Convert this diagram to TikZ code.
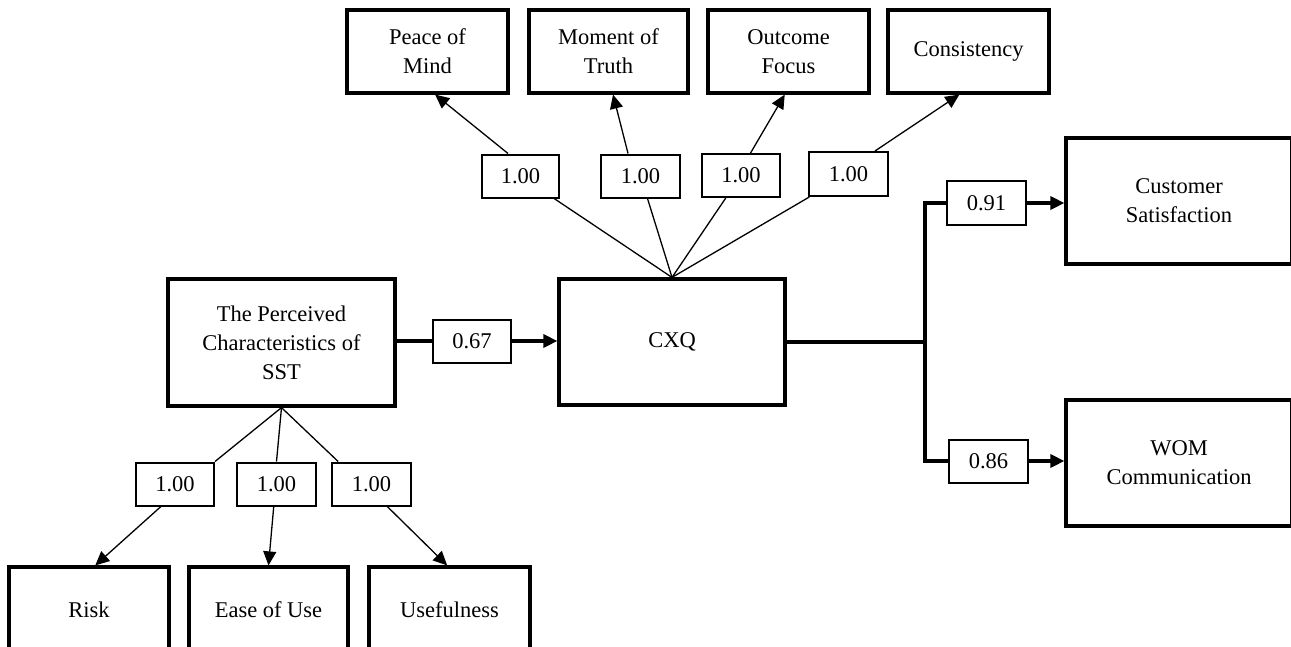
\documentclass[tikz,border=0pt]{standalone}
\usepackage{fontspec}
\setmainfont{Liberation Serif}
\usetikzlibrary{arrows.meta,calc}
\begin{document}
\begin{tikzpicture}[x=1pt,y=-1pt,
  bigbox/.style={draw,line width=3.2pt,inner sep=0pt,align=center,
    font=\fontsize{22.5}{29}\selectfont},
  lbl/.style={draw,line width=2pt,inner sep=0pt,align=center,
    minimum width=78pt,minimum height=43pt,font=\fontsize{22.5}{26}\selectfont},
  thinline/.style={line width=1.3pt},
  thickline/.style={line width=3.4pt},
  tip/.style={-{Triangle[length=14pt,width=13pt]}}
]
\useasboundingbox (0,0) rectangle (1291,646);

% top indicator boxes
\node[bigbox,minimum width=161pt,minimum height=83pt] (peace) at (427.5,51.5) {Peace of\\Mind};
\node[bigbox,minimum width=159pt,minimum height=83pt] (moment) at (608.5,51.5) {Moment of\\Truth};
\node[bigbox,minimum width=161pt,minimum height=83pt] (outcome) at (788.5,51.5) {Outcome\\Focus};
\node[bigbox,minimum width=161pt,minimum height=83pt] (consist) at (968.5,51.5) {Consistency};

% top loadings
\node[lbl,minimum width=77pt] (l1) at (520.5,176) {1.00};
\node[lbl,minimum width=79pt] (l2) at (640.5,176) {1.00};
\node[lbl] (l3) at (741,175.5) {1.00};
\node[lbl,minimum width=79pt,minimum height=44pt] (l4) at (848.5,174) {1.00};

% main constructs
\node[bigbox,minimum width=227pt,minimum height=127pt] (sst) at (281.5,342.5) {The Perceived\\Characteristics of\\SST};
\node[bigbox,minimum width=226pt,minimum height=126pt] (cxq) at (672,342) {CXQ};
\node[lbl] (l67) at (472,341) {0.67};

\node[bigbox,minimum width=226pt,minimum height=126pt] (cs) at (1179,201) {Customer\\Satisfaction};
\node[bigbox,minimum width=226pt,minimum height=126pt] (wom) at (1179,463) {WOM\\Communication};
\node[lbl,minimum width=79pt,minimum height=44pt] (l91) at (986.5,203) {0.91};
\node[lbl,minimum width=79pt] (l86) at (988.5,461) {0.86};
\coordinate (j) at (925,342);

% bottom loadings
\node[lbl] (ra) at (175,484) {1.00};
\node[lbl,minimum width=79pt] (rb) at (276.5,484) {1.00};
\node[lbl,minimum width=79pt] (rc) at (371.5,484) {1.00};

% bottom indicator boxes
\node[bigbox,minimum width=160pt,minimum height=86pt] (risk) at (89,610) {Risk};
\node[bigbox,minimum width=159pt,minimum height=86pt] (ease) at (268.5,610) {Ease of Use};
\node[bigbox,minimum width=161pt,minimum height=86pt] (useful) at (449.5,610) {Usefulness};

% CXQ -> top indicators
\draw[thinline] (cxq.north) -- (l1);
\draw[thinline] (cxq.north) -- (l2);
\draw[thinline] (cxq.north) -- (l3);
\draw[thinline] (cxq.north) -- (l4);
\draw[thinline,tip] (l1.119) -- (peace.-80);
\draw[thinline,tip] (l2.119) -- (moment.-84);
\draw[thinline,tip] (l3.67) -- (outcome.-95);
\draw[thinline,tip] (l4.41) -- (consist.-102);

% SST -> bottom indicators
\draw[thinline] (sst.south) -- (ra.north east);
\draw[thinline] (sst.south) -- (rb.north);
\draw[thinline] (sst.south) -- (rc.146);
\draw[thinline,tip] (ra.-122) -- (risk.82);
\draw[thinline,tip] (rb.-97) -- (ease.north);
\draw[thinline,tip] (rc.-55) -- (useful.93);

% structural paths
\draw[thickline] (sst.east |- l67.west) -- (l67.west);
\draw[thickline,tip] (l67.east) -- (cxq.west |- l67.east);
\draw[thickline] (cxq.east) -- (j);
\draw[thickline] (j) |- (l91.west);
\draw[thickline] (j) |- (l86.west);
\draw[thickline,tip] (l91.east) -- (cs.west |- l91.east);
\draw[thickline,tip] (l86.east) -- (wom.west |- l86.east);
\end{tikzpicture}
\end{document}
